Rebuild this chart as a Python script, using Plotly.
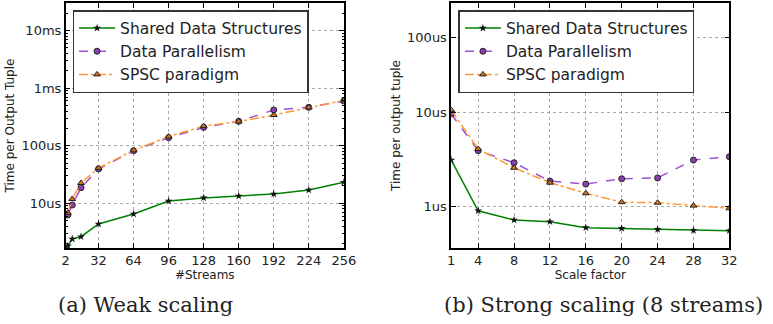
import plotly.graph_objects as go

# ---------------- data (time per output tuple, in microseconds) ----------------
streams = [4, 8, 16, 32, 64, 96, 128, 160, 192, 224, 256]
weak_shared = [1.82, 2.40, 2.63, 4.37, 6.52, 10.96, 12.4, 13.4, 14.5, 17.0, 23.2]
weak_dp = [6.27, 9.35, 18.7, 39.4, 81.8, 137.6, 208, 265, 417, 464, 597]
weak_spsc = [6.87, 11.9, 22.5, 41.0, 83.0, 144, 219, 263, 341, 462, 610]

scale = [1, 4, 8, 12, 16, 20, 24, 28, 32]
strong_shared = [3.11, 0.89, 0.708, 0.679, 0.586, 0.576, 0.562, 0.549, 0.544]
strong_dp = [9.68, 3.92, 2.91, 1.85, 1.72, 1.96, 2.00, 3.11, 3.38]
strong_spsc = [10.7, 4.08, 2.57, 1.78, 1.37, 1.10, 1.085, 1.01, 0.945]

weak_xticks = [2, 32, 64, 96, 128, 160, 192, 224, 256]
weak_yticks = [10, 100, 1000, 10000]
weak_ylabels = ["10us", "100us", "1ms", "10ms"]
strong_xticks = [1, 4, 8, 12, 16, 20, 24, 28, 32]
strong_yticks = [1, 10, 64.3]
strong_ylabels = ["1us", "10us", "100us"]

names = ["Shared Data Structures", "Data Parallelism", "SPSC paradigm"]

GREEN = "#008000"
PURPLE = "#a050d0"
ORANGE = "#ff9933"

styles = [
    dict(line=dict(color=GREEN, width=1.5),
         marker=dict(symbol="star", size=6, color="#111111")),
    dict(line=dict(color=PURPLE, width=1.5, dash="dash"),
         marker=dict(symbol="circle", size=6, color="#8a3fb5",
                     line=dict(color="#222222", width=1))),
    dict(line=dict(color=ORANGE, width=1.5, dash="dashdot"),
         marker=dict(symbol="triangle-up", size=6, color="#d9701a",
                     line=dict(color="#222222", width=1))),
]

fig = go.Figure()

for i, (ys, nm) in enumerate(zip([weak_shared, weak_dp, weak_spsc], names)):
    fig.add_trace(go.Scatter(x=streams, y=ys, name=nm, mode="lines+markers",
                             xaxis="x", yaxis="y", legend="legend",
                             legendgroup=f"a{i}", **styles[i]))
for i, (ys, nm) in enumerate(zip([strong_shared, strong_dp, strong_spsc], names)):
    fig.add_trace(go.Scatter(x=scale, y=ys, name=nm, mode="lines+markers",
                             xaxis="x2", yaxis="y2", legend="legend2",
                             legendgroup=f"b{i}", **styles[i]))

W, H = 773, 324
def px(v):
    return v / W
def py(v):
    return 1 - v / H

axis_common = dict(showline=True, linecolor="black", linewidth=1.5, mirror="allticks",
                   ticks="inside", ticklen=5, tickcolor="black",
                   showgrid=True, gridcolor="#aaaaaa", griddash="dot", gridwidth=1,
                   zeroline=False,
                   tickfont=dict(family="DejaVu Sans", size=13, color="#222222"))

minor_left = [m * 10 ** e for e in range(0, 5) for m in range(2, 10)]

legend_common = dict(xanchor="left", yanchor="top",
                     bgcolor="white", bordercolor="#333333", borderwidth=1.5,
                     font=dict(family="DejaVu Sans", size=15.5, color="#222222"),
                     tracegroupgap=0, itemwidth=36)

fig.update_layout(
    width=W, height=H, margin=dict(l=0, r=0, t=0, b=0),
    paper_bgcolor="white", plot_bgcolor="white",
    font=dict(family="DejaVu Sans", color="#222222"),
    xaxis=dict(domain=[px(63), px(347)], range=[2, 256], tickvals=weak_xticks,
               anchor="y",
               title=dict(text="#Streams", font=dict(size=12), standoff=2),
               **axis_common),
    yaxis=dict(domain=[py(248), py(3)], type="log", range=[0.224, 4.477],
               tickvals=weak_yticks, ticktext=weak_ylabels, anchor="x",
               minor=dict(tickvals=minor_left, ticks="inside", ticklen=2.5,
                          tickcolor="black", showgrid=False),
               title=dict(text="Time per Output Tuple", font=dict(size=12), standoff=4),
               **axis_common),
    xaxis2=dict(domain=[px(456.7), px(740.7)], range=[1, 32], tickvals=strong_xticks,
                anchor="y2",
                title=dict(text="Scale factor", font=dict(size=12), standoff=2),
                **axis_common),
    yaxis2=dict(domain=[py(248), py(3)], type="log", range=[-0.45, 2.176],
                tickvals=strong_yticks, ticktext=strong_ylabels, anchor="x2",
                title=dict(text="Time per output tuple", font=dict(size=12), standoff=4),
                **axis_common),
    legend=dict(x=px(70), y=py(10), **legend_common),
    legend2=dict(x=px(464), y=py(10), **legend_common),
    annotations=[
        dict(text="(a) Weak scaling", x=px(144), y=py(305), xref="paper", yref="paper",
             xanchor="center", yanchor="middle",
             showarrow=False, font=dict(family="DejaVu Serif", size=21, color="#222222")),
        dict(text="(b) Strong scaling (8 streams)", x=px(612), y=py(305), xref="paper",
             yref="paper", xanchor="center", yanchor="middle", showarrow=False,
             font=dict(family="DejaVu Serif", size=21, color="#222222")),
    ],
)

fig.write_html("out.html")
